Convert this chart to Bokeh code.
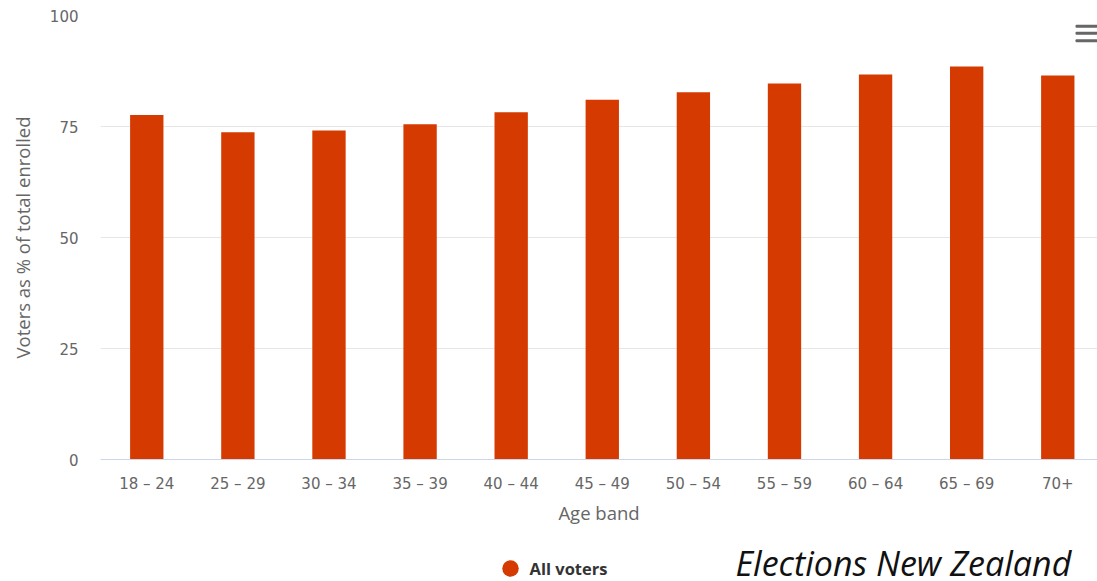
from bokeh.plotting import figure
from bokeh.layouts import column
from bokeh.models import ColumnDataSource, FixedTicker, Range1d, BoxAnnotation
from bokeh.core.properties import value
from bokeh.embed import file_html
from bokeh.resources import INLINE

# Turnout by age band (voters as % of total enrolled)
age_bands = ["18 \u2013 24", "25 \u2013 29", "30 \u2013 34", "35 \u2013 39", "40 \u2013 44",
             "45 \u2013 49", "50 \u2013 54", "55 \u2013 59", "60 \u2013 64", "65 \u2013 69", "70+"]
turnout = [77.6, 73.7, 74.1, 75.5, 78.2, 81.0, 82.7, 84.7, 86.7, 88.5, 86.5]
y_ticks = [0, 25, 50, 75, 100]
series_name = "All voters"
source_note = "Elections New Zealand"

BAR = "#d53a00"
GREY = "#666666"
W, H_MAIN, H_FOOT = 1097, 530, 51
FRAME_LEFT = 100

positions = list(range(len(age_bands)))
src = ColumnDataSource(dict(x=positions, top=turnout, band=age_bands))

p = figure(width=W, height=H_MAIN, output_backend="svg", toolbar_location=None,
           x_range=Range1d(-0.508, 10.436), y_range=Range1d(0, 100),
           min_border_left=FRAME_LEFT, min_border_right=0, min_border_top=15,
           min_border_bottom=H_MAIN - 459)
p.outline_line_color = None
p.border_fill_color = "white"

p.vbar(x="x", top="top", width=0.366, source=src, fill_color=BAR, line_color=None)

# x axis: one label per age band
xa = p.xaxis[0]
xa.ticker = FixedTicker(ticks=positions)
xa.major_label_overrides = {i: b for i, b in zip(positions, age_bands)}
xa.axis_line_color = "#ccd6eb"
xa.axis_line_width = 1
xa.major_tick_line_color = None
xa.minor_tick_line_color = None
xa.major_label_text_font = "DejaVu Sans"
xa.major_label_text_font_size = "15px"
xa.major_label_text_color = GREY
xa.major_label_standoff = 9
xa.axis_label = "Age band"
xa.axis_label_text_font = "Open Sans"
xa.axis_label_text_font_style = "normal"
xa.axis_label_text_font_size = "18.5px"
xa.axis_label_text_color = GREY
xa.axis_label_standoff = 4

# y axis
ya = p.yaxis[0]
ya.ticker = FixedTicker(ticks=y_ticks)
ya.axis_line_color = None
ya.major_tick_line_color = None
ya.minor_tick_line_color = None
ya.major_label_text_font = "DejaVu Sans"
ya.major_label_text_font_size = "15px"
ya.major_label_text_color = GREY
ya.major_label_standoff = 16
ya.axis_label = "Voters as % of total enrolled"
ya.axis_label_text_font = "Open Sans"
ya.axis_label_text_font_style = "normal"
ya.axis_label_text_font_size = "18.5px"
ya.axis_label_text_color = GREY
ya.axis_label_standoff = 12

p.xgrid.grid_line_color = None
p.ygrid.ticker = FixedTicker(ticks=y_ticks)
p.ygrid.grid_line_color = "#e6e6e6"
p.ygrid.grid_line_width = 1

# context menu icon (three bars)
for top in (433.3, 426.3, 418.7):
    p.add_layout(BoxAnnotation(left=975, right=997, top=top + 1.5, bottom=top - 1.5,
                               left_units="screen", right_units="screen",
                               top_units="screen", bottom_units="screen",
                               fill_color=GREY, fill_alpha=1, line_color=None,
                               border_radius=1))

# footer strip: series key and source credit. Its frame lines up with the
# chart frame above, so the x range spans the same pixel columns (y runs downwards
# from the top of the strip).
f = figure(width=W, height=H_FOOT, output_backend="svg", toolbar_location=None,
           x_range=Range1d(FRAME_LEFT, W), y_range=Range1d(H_FOOT, 0),
           min_border_left=FRAME_LEFT, min_border_right=0,
           min_border_top=0, min_border_bottom=0)
f.outline_line_color = None
f.axis.visible = False
f.grid.visible = False

key_y = 568 - H_MAIN
f.scatter(x=[510], y=[key_y], size=16.5, marker="circle", fill_color=BAR, line_color=None)
f.text(x=[529], y=[key_y], text=[series_name], text_font=value("Open Sans"),
       text_font_style="bold", text_font_size="16.5px", text_color="#333333",
       text_baseline="middle", text_align="left")
f.text(x=[735], y=[562 - H_MAIN], text=[source_note], text_font=value("Open Sans"),
       text_font_style="italic", text_font_size="34px", text_color="#111111",
       text_baseline="middle", text_align="left")

layout = column(p, f, spacing=0)
open("out.html", "w").write(file_html(layout, INLINE))
